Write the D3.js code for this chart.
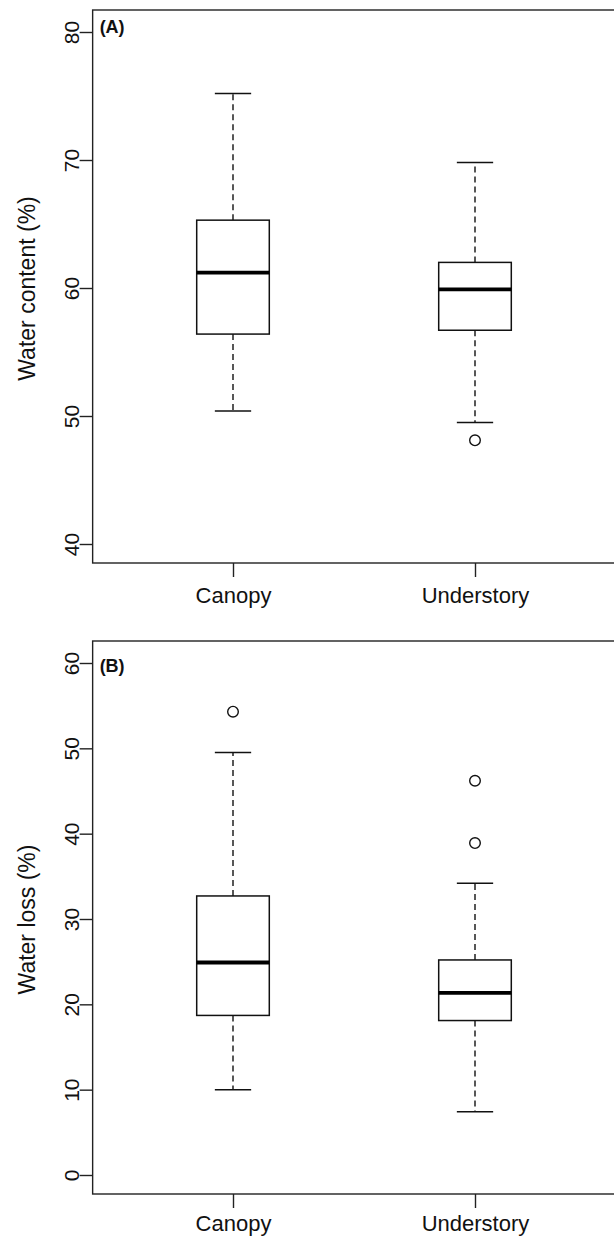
<!DOCTYPE html>
<html>
<head>
<meta charset="utf-8">
<script src="https://cdn.jsdelivr.net/npm/d3@7"></script>
<style>
  html, body { margin: 0; padding: 0; background: #fff; }
  svg { display: block; }
  text { font-family: "Liberation Sans", Arial, Helvetica, sans-serif; fill: #111; }
</style>
</head>
<body>
<svg id="chart" width="614" height="1237"></svg>
<script>
// ---- data ----
const categories = ["Canopy", "Understory"];

// Panel A: water content (%)
const contentLow     = [50.4, 49.5];
const contentQ1      = [56.4, 56.7];
const contentMedian  = [61.2, 59.9];
const contentQ3      = [65.3, 62.0];
const contentHigh    = [75.2, 69.8];
const contentOutliers = [[], [48.1]];
const contentTicks   = [40, 50, 60, 70, 80];

// Panel B: water loss (%)
const lossLow     = [10.0, 7.4];
const lossQ1      = [18.7, 18.1];
const lossMedian  = [24.9, 21.35];
const lossQ3      = [32.7, 25.2];
const lossHigh    = [49.5, 34.2];
const lossOutliers = [[54.3], [46.2, 38.9]];
const lossTicks   = [0, 10, 20, 30, 40, 50, 60];

const svg = d3.select("#chart");
const ink = "#111";

const x = d3.scaleLinear().domain([1, 2]).range([233, 475]);
const boxHalf = (x(2) - x(1)) * 0.15;

function panel(opts) {
  const g = svg.append("g");
  const y = opts.y;
  const frameLeft = x(0.42), frameRight = x(2.58);
  const frameTop = opts.frameTop, frameBottom = opts.frameBottom;

  // frame
  g.append("rect")
    .attr("x", frameLeft).attr("y", frameTop)
    .attr("width", frameRight - frameLeft).attr("height", frameBottom - frameTop)
    .attr("fill", "none").attr("stroke", "#222").attr("stroke-width", 1.4);

  // y axis
  const ya = g.append("g").attr("transform", `translate(${frameLeft},0)`)
    .call(d3.axisLeft(y).tickValues(opts.ticks).tickSize(13).tickSizeOuter(0).tickFormat(d3.format("d")));
  ya.select(".domain").remove();
  ya.selectAll(".tick line").attr("stroke", "#222").attr("stroke-width", 1.4);
  ya.selectAll(".tick text")
    .attr("x", 0).attr("y", -14).attr("dy", 0)
    .attr("transform", "rotate(-90)")
    .attr("text-anchor", "middle")
    .style("font-size", "21px").attr("fill", ink);

  // x axis
  const xa = g.append("g").attr("transform", `translate(0,${frameBottom})`)
    .call(d3.axisBottom(x).tickValues([1, 2]).tickSize(14).tickSizeOuter(0)
      .tickFormat((d) => categories[d - 1]));
  xa.select(".domain").remove();
  xa.selectAll(".tick line").attr("stroke", "#222").attr("stroke-width", 1.4);
  xa.selectAll(".tick text").attr("y", opts.labelOffset).attr("dy", 0)
    .style("font-size", "22px").attr("fill", ink);

  // y title
  g.append("text")
    .attr("transform", `translate(35,${(frameTop + frameBottom) / 2 + 2}) rotate(-90)`)
    .attr("text-anchor", "middle")
    .style("font-size", "23px")
    .text(opts.title);

  // panel letter
  g.append("text")
    .attr("x", frameLeft + 7).attr("y", opts.letterY)
    .style("font-size", "18px").style("font-weight", "bold")
    .text(opts.letter);

  const idx = d3.range(categories.length);
  const bx = g.append("g");

  // whiskers (dashed)
  bx.selectAll(".wu").data(idx).join("line")
    .attr("x1", (i) => x(i + 1)).attr("x2", (i) => x(i + 1))
    .attr("y1", (i) => y(opts.q3[i])).attr("y2", (i) => y(opts.high[i]))
    .attr("stroke", ink).attr("stroke-width", 1.4).attr("stroke-dasharray", "6,4");
  bx.selectAll(".wl").data(idx).join("line")
    .attr("x1", (i) => x(i + 1)).attr("x2", (i) => x(i + 1))
    .attr("y1", (i) => y(opts.q1[i])).attr("y2", (i) => y(opts.low[i]))
    .attr("stroke", ink).attr("stroke-width", 1.4).attr("stroke-dasharray", "6,4");
  // staples
  [opts.high, opts.low].forEach((arr) => {
    bx.append("g").selectAll("line").data(idx).join("line")
      .attr("x1", (i) => x(i + 1) - boxHalf / 2).attr("x2", (i) => x(i + 1) + boxHalf / 2)
      .attr("y1", (i) => y(arr[i])).attr("y2", (i) => y(arr[i]))
      .attr("stroke", ink).attr("stroke-width", 1.5);
  });
  // boxes
  bx.append("g").selectAll("rect").data(idx).join("rect")
    .attr("x", (i) => x(i + 1) - boxHalf).attr("width", boxHalf * 2)
    .attr("y", (i) => y(opts.q3[i])).attr("height", (i) => y(opts.q1[i]) - y(opts.q3[i]))
    .attr("fill", "#fff").attr("stroke", ink).attr("stroke-width", 1.5);
  // medians
  bx.append("g").selectAll("line").data(idx).join("line")
    .attr("x1", (i) => x(i + 1) - boxHalf).attr("x2", (i) => x(i + 1) + boxHalf)
    .attr("y1", (i) => y(opts.median[i])).attr("y2", (i) => y(opts.median[i]))
    .attr("stroke", "#000").attr("stroke-width", 3.8);
  // outliers
  const pts = [];
  opts.outliers.forEach((arr, i) => arr.forEach((v) => pts.push({ i, v })));
  bx.append("g").selectAll("circle").data(pts).join("circle")
    .attr("cx", (d) => x(d.i + 1)).attr("cy", (d) => y(d.v)).attr("r", 5.3)
    .attr("fill", "none").attr("stroke", ink).attr("stroke-width", 1.4);
}

panel({
  y: d3.scaleLinear().domain([40, 80]).range([544, 32]),
  frameTop: 10, frameBottom: 563, labelOffset: 40,
  ticks: contentTicks, title: "Water content (%)", letter: "(A)", letterY: 33,
  low: contentLow, q1: contentQ1, median: contentMedian, q3: contentQ3, high: contentHigh,
  outliers: contentOutliers
});

panel({
  y: d3.scaleLinear().domain([0, 60]).range([1175, 663]),
  frameTop: 641, frameBottom: 1194, labelOffset: 37,
  ticks: lossTicks, title: "Water loss (%)", letter: "(B)", letterY: 672,
  low: lossLow, q1: lossQ1, median: lossMedian, q3: lossQ3, high: lossHigh,
  outliers: lossOutliers
});
</script>
</body>
</html>
